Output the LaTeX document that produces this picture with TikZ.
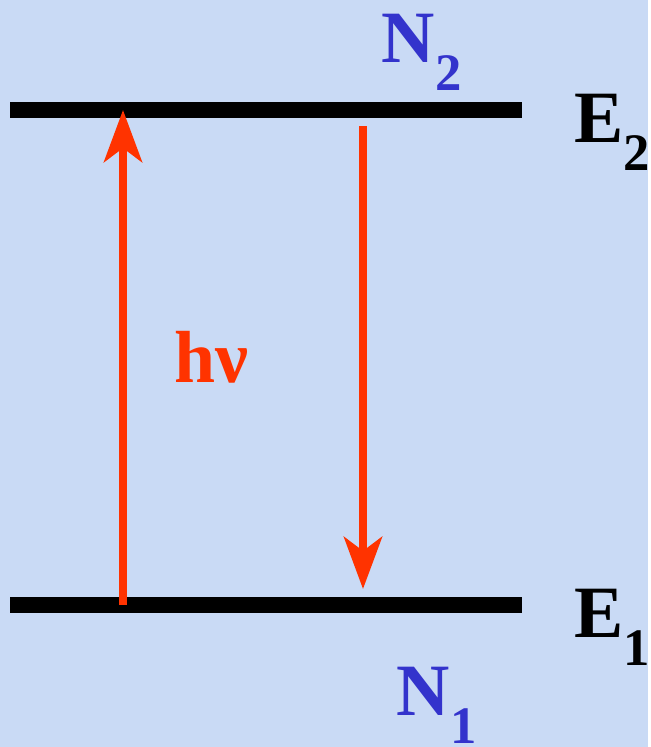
\documentclass[tikz,border=0pt]{standalone}
\usepackage{fontspec}
\setmainfont{Liberation Serif}
\usetikzlibrary{arrows.meta,positioning}
\definecolor{lvbg}{HTML}{C9DAF5}
\definecolor{lvred}{HTML}{FF3300}
\definecolor{lvblue}{HTML}{3333CC}

\tikzset{
  lvline/.style={line width=0.16cm},
  photon/.style={lvred,line width=0.08cm,-{Stealth[length=0.52cm,width=0.38cm,inset=0.14cm]}},
  lvlab/.style={font=\bfseries\fontsize{21}{25}\selectfont,inner sep=0pt,anchor=base west}
}
\newcommand{\lvsub}[2]{#1\raisebox{-8pt}{\fontsize{15}{15}\selectfont #2}}

\begin{document}
\begin{tikzpicture}
  \fill[lvbg] (0,0) rectangle (6.48,-7.47);
  \draw[lvline] (0.10,-1.10) coordinate (up-l) -- (5.22,-1.10) coordinate (up-r);
  \draw[lvline] (0.10,-6.05) coordinate (lo-l) -- (5.22,-6.05) coordinate (lo-r);
  \coordinate (abs-s) at (1.23,-6.05);
  \coordinate (abs-e) at (1.23,-1.10);
  \coordinate (emi-s) at (3.63,-1.26);
  \coordinate (emi-e) at (3.63,-5.89);
  \draw[photon] (abs-s) -- (abs-e);
  \draw[photon] (emi-s) -- (emi-e);
  \node[lvlab,lvred] (hnu) at (1.74,-3.82) {hν};
  \node[lvlab] (e2) at (5.74,-1.42) {\lvsub{E}{2}};
  \node[lvlab] (e1) at (5.74,-6.37) {\lvsub{E}{1}};
  \node[lvlab,lvblue] (n2) at (3.81,-0.62) {\lvsub{N}{2}};
  \node[lvlab,lvblue] (n1) at (3.96,-7.15) {\lvsub{N}{1}};
\end{tikzpicture}
\end{document}
